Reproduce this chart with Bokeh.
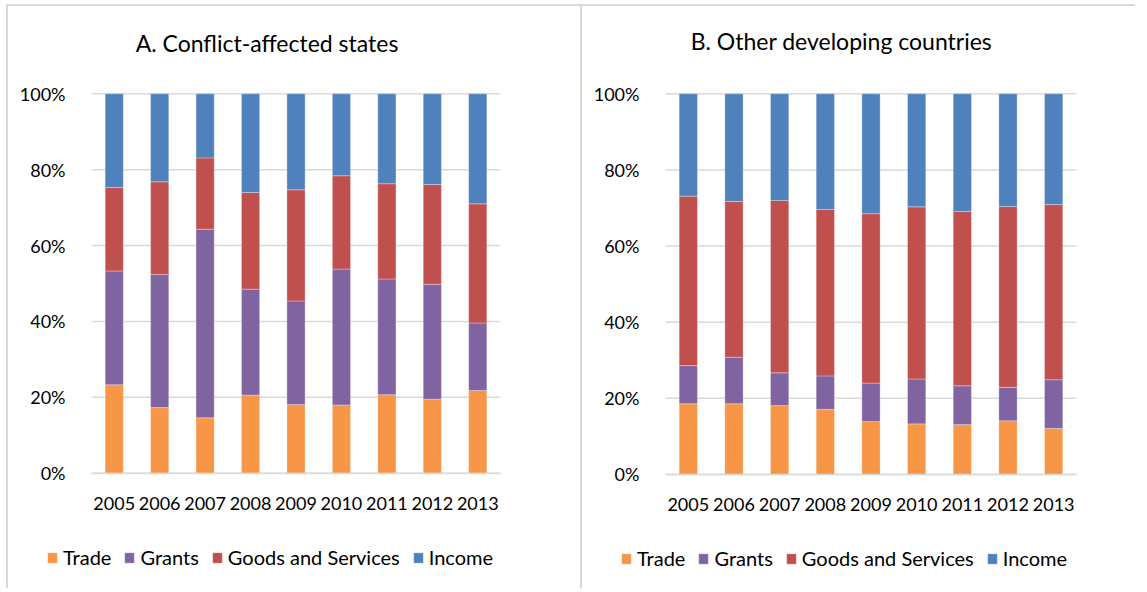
from bokeh.plotting import figure
from bokeh.layouts import row
from bokeh.models import (ColumnDataSource, Range1d, FixedTicker, PrintfTickFormatter,
                          Legend, LegendItem, Label)
from bokeh.embed import file_html
from bokeh.resources import INLINE

years = ["2005", "2006", "2007", "2008", "2009", "2010", "2011", "2012", "2013"]
series = ["Trade", "Grants", "Goods and Services", "Income"]
colors = ["#F79646", "#8064A2", "#C0504D", "#4F81BD"]
y_ticks = [0, 20, 40, 60, 80, 100]

# Panel A: Conflict-affected states (share, %)
a_trade = [23.3, 17.3, 14.6, 20.6, 18.1, 18.0, 20.7, 19.5, 21.8]
a_grants = [30.0, 35.1, 49.7, 27.9, 27.3, 35.8, 30.5, 30.3, 17.8]
a_goods = [22.0, 24.4, 18.8, 25.5, 29.3, 24.6, 25.1, 26.3, 31.4]
a_income = [24.7, 23.2, 16.9, 26.0, 25.3, 21.6, 23.7, 23.9, 29.0]

# Panel B: Other developing countries (share, %)
b_trade = [18.6, 18.6, 18.1, 17.1, 13.9, 13.3, 13.1, 14.1, 12.1]
b_grants = [10.0, 12.2, 8.6, 8.8, 10.1, 11.8, 10.2, 8.8, 12.8]
b_goods = [44.5, 40.9, 45.3, 43.7, 44.5, 45.2, 45.8, 47.5, 46.0]
b_income = [26.9, 28.3, 28.0, 30.4, 31.5, 29.7, 30.9, 29.6, 29.1]

title_a = "A. Conflict-affected states"
title_b = "B. Other developing countries"

FONT = "Lato"
TXT = "#000000"
GRID = "#D9D9D9"

xpos = list(range(1, len(years) + 1))
x_lo, x_hi = 0.5, len(years) + 0.5


def make_panel(title, vals, width, x_range, y_range, title_offset, title_y, leg_loc, css):
    src = ColumnDataSource(dict(x=xpos, **{s: v for s, v in zip(series, vals)}))
    p = figure(width=width, height=584, x_range=Range1d(*x_range), y_range=Range1d(*y_range),
               output_backend="svg", toolbar_location=None, min_border=0)
    p.styles = css
    p.outline_line_color = None
    p.xgrid.visible = False
    p.ygrid.visible = False

    # horizontal gridlines between the first and last category edges
    p.segment(x0=[x_lo] * len(y_ticks), x1=[x_hi] * len(y_ticks), y0=y_ticks, y1=y_ticks,
              line_color=GRID, line_width=1.5, level="underlay")

    renderers = p.vbar_stack(series, x="x", width=0.4, source=src, color=colors,
                             line_color="white", line_width=0.6, line_alpha=0.5)

    p.xaxis.fixed_location = 0
    p.xaxis.bounds = (x_lo, x_hi)
    p.xaxis.ticker = FixedTicker(ticks=xpos)
    p.xaxis.major_label_overrides = {x: y for x, y in zip(xpos, years)}
    p.yaxis.fixed_location = x_lo
    p.yaxis.ticker = FixedTicker(ticks=y_ticks)
    p.yaxis.formatter = PrintfTickFormatter(format="%d%%")
    for ax in (p.xaxis, p.yaxis):
        ax.major_tick_line_color = None
        ax.minor_tick_line_color = None
        ax.major_label_text_font = FONT
        ax.major_label_text_font_size = "18px"
        ax.major_label_text_color = TXT
    p.yaxis.axis_line_color = None
    p.yaxis.major_label_standoff = 20
    p.xaxis.axis_line_color = GRID
    p.xaxis.axis_line_width = 1.5
    p.xaxis.major_label_standoff = 18

    p.add_layout(Label(x=(x_lo + x_hi) / 2, y=title_y, x_offset=title_offset, text=title,
                       text_align="center", text_baseline="middle", text_font=FONT,
                       text_font_size="23px", text_color=TXT))

    items = [LegendItem(label=s, renderers=[r]) for s, r in zip(series, renderers)]
    leg = Legend(items=items, orientation="horizontal", location=leg_loc,
                 glyph_width=12, glyph_height=13, label_standoff=5, spacing=12,
                 padding=0, margin=0, border_line_color=None, background_fill_alpha=0,
                 label_text_font=FONT, label_text_font_size="20px", label_text_color=TXT)
    p.add_layout(leg, "center")
    return p


border = {"border-top": "2px solid #D9D9D9", "border-left": "2px solid #D9D9D9", "margin-top": "4px"}
pa = make_panel(title_a, [a_trade, a_grants, a_goods, a_income], 574,
                (-1.327, 11.305), (-30.92, 123.01), -29, 113.5, (38, 21),
                dict(border, **{"margin-left": "6px"}))
pb = make_panel(title_b, [b_trade, b_grants, b_goods, b_income], 555,
                (-1.317, 10.836), (-30.47, 122.93), -29.5, 113.8, (38, 20), border)

layout = row(pa, pb)
open("out.html", "w").write(file_html(layout, INLINE))
